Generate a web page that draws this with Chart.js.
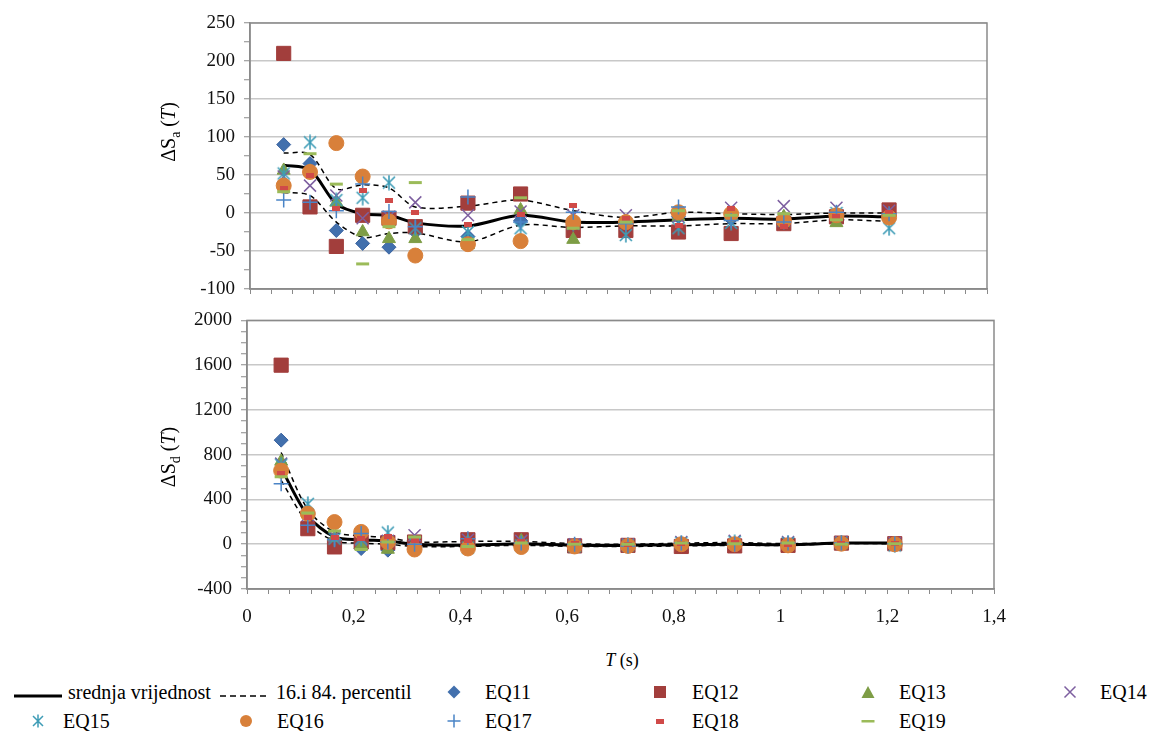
<!DOCTYPE html>
<html>
<head>
<meta charset="utf-8">
<script src="https://cdn.jsdelivr.net/npm/chart.js@4.4.0/dist/chart.umd.min.js"></script>
<style>
  body { margin: 0; background: #fff; width: 1149px; height: 733px; position: relative; overflow: hidden;
         font-family: "Liberation Serif", "Times New Roman", serif; color: #000; }
  canvas { position: absolute; left: 0; }
  .yt { position: absolute; transform: translate(-50%, -50%) rotate(-90deg); font-size: 20px; white-space: nowrap; }
  .yt sub { font-size: 14px; }
  .xt { position: absolute; transform: translate(-50%, -50%); font-size: 18px; white-space: nowrap; }
  .lg { position: absolute; font-size: 20px; white-space: nowrap; line-height: 24px; }
  .mk { position: absolute; }
</style>
</head>
<body>
<canvas id="topChart" width="1149" height="310" style="top:0"></canvas>
<canvas id="bottomChart" width="1149" height="340" style="top:300px"></canvas>

<div class="yt" style="left:170px;top:132px">ΔS<sub>a</sub> (<i>T</i>)</div>
<div class="yt" style="left:170px;top:457px">ΔS<sub>d</sub> (<i>T</i>)</div>
<div class="xt" style="left:622px;top:660px"><i>T</i> (s)</div>
<div id="legend"></div>

<script>
// Periode (s)
const T = [0.064, 0.114, 0.164, 0.214, 0.264, 0.314, 0.414, 0.514, 0.614, 0.714, 0.814, 0.914, 1.014, 1.114, 1.214];

// ΔSa(T) - gornji graf
const meanSa = [63, 57, 12, -1, -3, -13, -17, -3, -12, -12, -9, -7, -8, -4, -5];
const p84Sa  = [79, 77, 32, 37, 33, 8, 9, 17, 3, -6, 1, -1, -2, 0, 0];
const p16Sa  = [27, 23, -12, -32, -27, -26, -38, -16, -19, -17, -17, -14, -14, -9, -11];
const eq11Sa = [90, 65, -23, -40, -45, -25, -31, -10, -10, -15, -5, -8, -8, -3, -3];
const eq12Sa = [210, 8, -44, -3, -7, -18, 13, 25, -23, -23, -25, -27, -14, -5, 4];
const eq13Sa = [56, 55, 14, -25, -34, -34, -42, 4, -35, -12, -5, -5, -5, -13, -5];
const eq14Sa = [48, 36, 23, -7, -5, 14, -3, 2, -3, -3, -5, 7, 9, 7, 3];
const eq15Sa = [52, 93, 17, 20, 40, -20, -25, -20, -14, -29, -20, -13, -10, 0, -20];
const eq16Sa = [36, 54, 92, 48, -11, -56, -41, -37, -12, -12, 1, -1, -10, -3, -6];
const eq17Sa = [17, 14, 3, 38, 2, -18, 21, -12, 1, -14, 8, -10, -12, 1, -1];
const eq18Sa = [32, 50, 6, 29, 17, 1, -15, -2, 10, -7, -16, 6, -18, -5, 1];
const eq19Sa = [28, 78, 38, -67, -18, 40, -35, 20, -20, -12, 3, -3, -1, -9, -3];

// ΔSd(T) - donji graf
const meanSd = [680, 255, 65, 40, 30, 0, -10, 5, -10, -10, -5, 0, -5, 10, 10];
const p84Sd  = [820, 310, 110, 75, 60, 20, 25, 25, 5, 0, 10, 15, 5, 12, 10];
const p16Sd  = [570, 190, 30, 10, 0, -20, -20, -10, -20, -20, -15, -10, -10, 5, 5];
const eq11Sd = [930, 280, 40, -38, -53, 0, 0, 0, -5, -5, 0, 0, 0, 10, 10];
const eq12Sd = [1600, 139, -24, 20, 15, 20, 40, 40, -15, -10, -20, -15, -10, 10, 5];
const eq13Sd = [740, 270, 60, -9, -47, 10, 20, 30, -30, -15, 0, 0, 0, 10, 0];
const eq14Sd = [720, 260, 70, 40, 30, 80, 40, 30, 0, 0, 20, 30, 20, 20, 10];
const eq15Sd = [710, 361, 50, 50, 104, 10, -30, -10, -20, -10, 10, 20, 10, 10, -10];
const eq16Sd = [658, 273, 198, 110, 20, -47, -38, -25, -20, -15, 0, 0, -10, 5, 0];
const eq17Sd = [540, 169, 41, 95, 20, 0, 50, 10, 0, -15, 10, 0, 10, 10, 5];
const eq18Sd = [628, 243, 60, 50, 65, 35, 30, 20, 10, 0, 10, 15, 0, 10, 10];
const eq19Sd = [604, 278, 118, -47, 20, 65, -20, 10, 0, 0, 10, 5, 10, 0, 5];

const eqNames = ['EQ11', 'EQ12', 'EQ13', 'EQ14', 'EQ15', 'EQ16', 'EQ17', 'EQ18', 'EQ19'];

Chart.defaults.font.family = 'Liberation Serif';

// markeri (Excel stil)
function starImage() {
  const c = document.createElement('canvas');
  c.width = 16; c.height = 16;
  const g = c.getContext('2d');
  g.strokeStyle = '#3E9CB6';
  g.lineWidth = 1.6;
  g.beginPath();
  g.moveTo(2, 2); g.lineTo(14, 14);
  g.moveTo(14, 2); g.lineTo(2, 14);
  g.moveTo(8, 0.5); g.lineTo(8, 15.5);
  g.stroke();
  return c;
}
function dashImage() {
  const c = document.createElement('canvas');
  c.width = 8; c.height = 5;
  const g = c.getContext('2d');
  g.fillStyle = '#D04A48';
  g.fillRect(0, 0, 8, 5);
  return c;
}

const markers = [
  { pointStyle: 'rectRot', pointRadius: 7, backgroundColor: '#4270AD', borderColor: '#3B64A0', borderWidth: 1 },
  { pointStyle: 'rect', pointRadius: 10, backgroundColor: '#A23E3C', borderColor: '#A23E3C', borderWidth: 1 },
  { pointStyle: 'triangle', pointRadius: 7.5, backgroundColor: '#7E9D46', borderColor: '#7E9D46', borderWidth: 1 },
  { pointStyle: 'crossRot', pointRadius: 8.5, borderColor: '#7D5FA0', borderWidth: 1.5 },
  { pointStyle: starImage(), pointRadius: 8 },
  { pointStyle: 'circle', pointRadius: 7.5, backgroundColor: '#D8803A', borderColor: '#D8803A', borderWidth: 1 },
  { pointStyle: 'cross', pointRadius: 7.5, borderColor: '#4A84C6', borderWidth: 1.5 },
  { pointStyle: dashImage(), pointRadius: 4 },
  { pointStyle: 'line', pointRadius: 6.5, borderColor: '#9BBB59', borderWidth: 3 }
];

const toPoints = arr => arr.map((y, i) => ({ x: T[i], y: y }));

function buildDatasets(mean, p84, p16, eqs) {
  const ds = [
    { label: 'srednja vrijednost', data: toPoints(mean), showLine: true, borderColor: '#000', borderWidth: 3,
      pointRadius: 0, tension: 0.3, order: 30 },
    { label: '16.i 84. percentil', data: toPoints(p84), showLine: true, borderColor: '#000', borderWidth: 1.5,
      borderDash: [5, 4], pointRadius: 0, tension: 0.3, order: 29 },
    { label: '16. percentil', data: toPoints(p16), showLine: true, borderColor: '#000', borderWidth: 1.5,
      borderDash: [5, 4], pointRadius: 0, tension: 0.3, order: 28 }
  ];
  eqs.forEach((arr, k) => {
    ds.push(Object.assign({ label: eqNames[k], data: toPoints(arr), showLine: false, order: 20 - k,
      pointHoverRadius: markers[k].pointRadius }, markers[k]));
  });
  return ds;
}

// okvir oko podrucja crtanja
const framePlugin = {
  id: 'frame',
  beforeDatasetsDraw(chart) {
    const { ctx, chartArea: a } = chart;
    ctx.save();
    ctx.strokeStyle = '#8a8a8a';
    ctx.lineWidth = 1.5;
    ctx.strokeRect(a.left, a.top, a.width, a.height);
    ctx.restore();
  }
};

const tickFont = { family: 'Liberation Serif', size: 19 };
const fmtX = v => {
  if (Math.abs(v * 5 - Math.round(v * 5)) > 1e-6) return '';
  return String(+v.toFixed(1)).replace('.', ',');
};

function xScale(showLabels, height) {
  return {
    type: 'linear', min: 0, max: 1.4,
    afterFit: s => { s.height = height; },
    ticks: { stepSize: 0.04, autoSkip: false, maxRotation: 0, font: tickFont, color: '#111', padding: 12,
             callback: v => showLabels ? fmtX(v) : '' },
    grid: { drawOnChartArea: false, tickLength: 5, color: '#8a8a8a', tickWidth: 1 },
    border: { color: '#8a8a8a', width: 1.5 }
  };
}

function yScale(min, max, step, major, width) {
  return {
    min: min, max: max,
    afterFit: s => { s.width = width; },
    ticks: { stepSize: step, autoSkip: false, font: tickFont, color: '#111', padding: 9,
             callback: v => (v % major === 0 ? v : '') },
    grid: {
      tickLength: 6, tickWidth: 1, tickColor: '#8a8a8a', lineWidth: 1.5,
      color: c => (c.tick && c.tick.value % major === 0 ? '#c8c8c8' : 'rgba(0,0,0,0)')
    },
    border: { color: '#8a8a8a', width: 1.5 }
  };
}

function commonOptions(xs, ys, padding) {
  return {
    responsive: false,
    animation: false,
    layout: { padding: padding },
    plugins: { legend: { display: false }, tooltip: { enabled: false } },
    scales: { x: xs, y: ys }
  };
}

new Chart(document.getElementById('topChart'), {
  type: 'scatter',
  data: { datasets: buildDatasets(meanSa, p84Sa, p16Sa,
    [eq11Sa, eq12Sa, eq13Sa, eq14Sa, eq15Sa, eq16Sa, eq17Sa, eq18Sa, eq19Sa]) },
  options: commonOptions(xScale(false, 21), yScale(-100, 250, 25, 50, 250),
    { top: 23, right: 162, left: 0, bottom: 0 }),
  plugins: [framePlugin]
});

new Chart(document.getElementById('bottomChart'), {
  type: 'scatter',
  data: { datasets: buildDatasets(meanSd, p84Sd, p16Sd,
    [eq11Sd, eq12Sd, eq13Sd, eq14Sd, eq15Sd, eq16Sd, eq17Sd, eq18Sd, eq19Sd]) },
  options: commonOptions(xScale(true, 51), yScale(-400, 2000, 100, 400, 247),
    { top: 18, right: 155, left: 0, bottom: 0 }),
  plugins: [framePlugin]
});

// Legenda
const svgMarks = {
  line: '<svg width="48" height="10"><line x1="0" y1="5" x2="48" y2="5" stroke="#000" stroke-width="3"/></svg>',
  dash: '<svg width="48" height="10"><line x1="0" y1="5" x2="48" y2="5" stroke="#000" stroke-width="1.5" stroke-dasharray="6,4"/></svg>',
  EQ11: '<svg width="14" height="14"><polygon points="7,0.5 13.5,7 7,13.5 0.5,7" fill="#4270AD"/></svg>',
  EQ12: '<svg width="14" height="14"><rect x="1" y="1" width="12" height="12" fill="#A23E3C"/></svg>',
  EQ13: '<svg width="14" height="14"><polygon points="7,1 13.5,13 0.5,13" fill="#7E9D46"/></svg>',
  EQ14: '<svg width="14" height="14"><path d="M1.5 1.5 L12.5 12.5 M12.5 1.5 L1.5 12.5" stroke="#7D5FA0" stroke-width="1.5"/></svg>',
  EQ15: '<svg width="14" height="14"><path d="M2 2 L12 12 M12 2 L2 12 M7 0.5 L7 13.5" stroke="#3E9CB6" stroke-width="1.5"/></svg>',
  EQ16: '<svg width="14" height="14"><circle cx="7" cy="7" r="6" fill="#D8803A"/></svg>',
  EQ17: '<svg width="14" height="14"><path d="M7 0.5 L7 13.5 M0.5 7 L13.5 7" stroke="#4A84C6" stroke-width="1.5"/></svg>',
  EQ18: '<svg width="14" height="14"><rect x="3" y="5" width="8" height="5" fill="#D04A48"/></svg>',
  EQ19: '<svg width="14" height="14"><rect x="0.5" y="6" width="13" height="2.5" fill="#9BBB59"/></svg>'
};
const legendItems = [
  { key: 'line', text: 'srednja vrijednost', mx: 38, tx: 68, row: 0 },
  { key: 'dash', text: '16.i 84. percentil', mx: 244, tx: 276, row: 0 },
  { key: 'EQ11', text: 'EQ11', mx: 454, tx: 485, row: 0 },
  { key: 'EQ12', text: 'EQ12', mx: 660, tx: 692, row: 0 },
  { key: 'EQ13', text: 'EQ13', mx: 868, tx: 899, row: 0 },
  { key: 'EQ14', text: 'EQ14', mx: 1070, tx: 1100, row: 0 },
  { key: 'EQ15', text: 'EQ15', mx: 38, tx: 63, row: 1 },
  { key: 'EQ16', text: 'EQ16', mx: 246, tx: 277, row: 1 },
  { key: 'EQ17', text: 'EQ17', mx: 454, tx: 485, row: 1 },
  { key: 'EQ18', text: 'EQ18', mx: 660, tx: 692, row: 1 },
  { key: 'EQ19', text: 'EQ19', mx: 868, tx: 899, row: 1 }
];
const rowY = [692, 721];
const legendEl = document.getElementById('legend');
legendItems.forEach(it => {
  const y = rowY[it.row];
  const mk = document.createElement('div');
  mk.className = 'mk';
  mk.innerHTML = svgMarks[it.key];
  const w = (it.key === 'line' || it.key === 'dash') ? 48 : 14;
  const h = (it.key === 'line' || it.key === 'dash') ? 10 : 14;
  mk.style.left = (it.mx - w / 2) + 'px';
  mk.style.top = (y - h / 2) + 'px';
  mk.style.width = w + 'px';
  mk.style.height = h + 'px';
  legendEl.appendChild(mk);

  const tx = document.createElement('div');
  tx.className = 'lg';
  tx.textContent = it.text;
  tx.style.left = it.tx + 'px';
  tx.style.top = (y - 12) + 'px';
  legendEl.appendChild(tx);
});
</script>
</body>
</html>
